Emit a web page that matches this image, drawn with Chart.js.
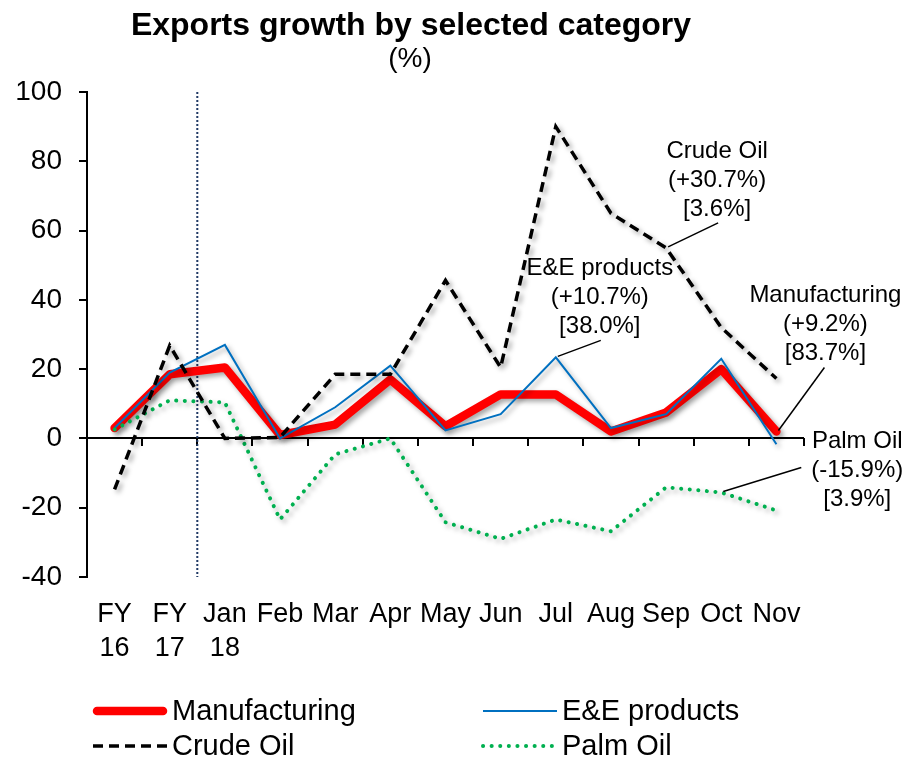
<!DOCTYPE html>
<html>
<head>
<meta charset="utf-8">
<script src="https://cdn.jsdelivr.net/npm/chart.js@4.4.1/dist/chart.umd.min.js"></script>
<style>
  body { margin: 0; background: #fff; }
  #wrap { width: 904px; height: 761px; }
</style>
</head>
<body>
<div id="wrap"><canvas id="exportsChart" width="904" height="761"></canvas></div>
<script>
const FONT = '"Liberation Sans", Arial, sans-serif';

const categories = [['FY', '16'], ['FY', '17'], ['Jan', '18'], 'Feb', 'Mar', 'Apr', 'May', 'Jun', 'Jul', 'Aug', 'Sep', 'Oct', 'Nov'];

const manufacturing = [3, 18.5, 20.5, 1, 4, 17, 3.5, 12.7, 12.7, 2, 7.5, 20, 2];
const eeProducts    = [3, 19, 27, 0, 9, 21, 2.3, 7, 23.4, 3, 7, 23, -1.7];
const crudeOil      = [-14.7, 26.8, 0, 0.3, 18.5, 18.5, 45.6, 20.5, 90, 65, 55, 32, 17.3];
const palmOil       = [2.6, 11, 10.4, -23.4, -4.6, 0, -24.2, -29, -23.4, -26.8, -14.1, -15.6, -20.8];

const yTicks = [-40, -20, 0, 20, 40, 60, 80, 100];

// callout labels: which series / point they point at
const callouts = [
  { ds: 2, idx: 10, lines: ['Crude Oil', '(+30.7%)', '[3.6%]'], tx: 51, ty: -97, lx: 52, ly: -25 },
  { ds: 1, idx: 8, lines: ['E&E products', '(+10.7%)', '[38.0%]'], tx: 44, ty: -89, lx: 45, ly: -17 },
  { ds: 0, idx: 12, lines: ['Manufacturing', '(+9.2%)', '[83.7%]'], tx: 49, ty: -136, lx: 48, ly: -64 },
  { ds: 3, idx: 11, lines: ['Palm Oil', '(-15.9%)', '[3.9%]'], tx: 136, ty: -51, lx: 80, ly: -25 }
];

const shadowPlugin = {
  id: 'shadow',
  beforeDatasetDraw(chart) {
    const ctx = chart.ctx;
    ctx.save();
    ctx.shadowColor = 'rgba(0,0,0,0.35)';
    ctx.shadowBlur = 5;
    ctx.shadowOffsetX = 3;
    ctx.shadowOffsetY = 3;
  },
  afterDatasetDraw(chart) {
    chart.ctx.restore();
  }
};

const extrasPlugin = {
  id: 'extras',
  beforeDatasetsDraw(chart) {
    const ctx = chart.ctx, x = chart.scales.x, y = chart.scales.y, area = chart.chartArea;
    ctx.save();
    // zero axis with tick marks between categories
    const y0 = Math.round(y.getPixelForValue(0));
    const step = x.getPixelForValue(1) - x.getPixelForValue(0);
    ctx.fillStyle = '#000';
    ctx.fillRect(area.left, y0 - 1, area.right - area.left, 2);
    for (let i = 0; i <= categories.length; i++) {
      const px = Math.round(x.getPixelForValue(i) - step / 2);
      ctx.fillRect(px - 1, y0, 2, 8);
    }
    // dotted divider between FY and monthly data
    const px = (x.getPixelForValue(1) + x.getPixelForValue(2)) / 2;
    ctx.strokeStyle = '#1F3864';
    ctx.lineWidth = 2;
    ctx.setLineDash([2, 2]);
    ctx.beginPath();
    ctx.moveTo(px, area.top);
    ctx.lineTo(px, area.bottom);
    ctx.stroke();
    ctx.restore();
  },
  afterDraw(chart) {
    const ctx = chart.ctx;
    ctx.save();
    // title
    ctx.fillStyle = '#000';
    ctx.textAlign = 'center';
    ctx.textBaseline = 'middle';
    ctx.font = 'bold 32px ' + FONT;
    ctx.fillText('Exports growth by selected category', 411, 26);
    ctx.font = '28px ' + FONT;
    ctx.fillText('(%)', 410, 59);

    // callouts
    ctx.font = '24px ' + FONT;
    callouts.forEach(c => {
      const pt = chart.getDatasetMeta(c.ds).data[c.idx];
      ctx.strokeStyle = '#000';
      ctx.lineWidth = 1.5;
      ctx.beginPath();
      ctx.moveTo(pt.x + 2, pt.y - 1);
      ctx.lineTo(pt.x + c.lx, pt.y + c.ly);
      ctx.stroke();
      c.lines.forEach((t, i) => ctx.fillText(t, pt.x + c.tx, pt.y + c.ty + i * 29));
    });

    // legend
    ctx.font = '29px ' + FONT;
    ctx.textAlign = 'left';
    const cols = [93, 483], rows = [711, 746];
    chart.data.datasets.forEach((ds, i) => {
      const lx = cols[i % 2], ly = rows[Math.floor(i / 2)];
      ctx.strokeStyle = ds.borderColor;
      ctx.lineWidth = ds.borderWidth;
      ctx.lineCap = ds.borderCapStyle || 'butt';
      ctx.setLineDash(ds.borderDash || []);
      ctx.beginPath();
      ctx.moveTo(lx + (ds.borderWidth > 5 ? 4 : 0), ly);
      ctx.lineTo(lx + 74 - (ds.borderWidth > 5 ? 4 : 0), ly);
      ctx.stroke();
      ctx.setLineDash([]);
      ctx.fillStyle = '#000';
      ctx.fillText(ds.label, lx + 79, ly + 1);
    });
    ctx.restore();
  }
};

new Chart(document.getElementById('exportsChart'), {
  type: 'line',
  data: {
    labels: categories,
    datasets: [
      {
        label: 'Manufacturing',
        data: manufacturing,
        borderColor: '#FF0000',
        borderWidth: 8.5,
        borderCapStyle: 'round',
        borderJoinStyle: 'round',
        pointRadius: 0,
        order: 4
      },
      {
        label: 'E&E products',
        data: eeProducts,
        borderColor: '#0070C0',
        borderWidth: 2,
        pointRadius: 0,
        order: 3
      },
      {
        label: 'Crude Oil',
        data: crudeOil,
        borderColor: '#000000',
        borderWidth: 3.5,
        borderDash: [10, 6],
        pointRadius: 0,
        order: 1
      },
      {
        label: 'Palm Oil',
        data: palmOil,
        borderColor: '#00B050',
        borderWidth: 4,
        borderDash: [0.1, 8.5],
        borderCapStyle: 'round',
        pointRadius: 0,
        order: 2
      }
    ]
  },
  options: {
    responsive: false,
    animation: false,
    layout: { padding: { left: 0, top: 92, right: 100, bottom: 0 } },
    plugins: {
      legend: { display: false },
      title: { display: false },
      tooltip: { enabled: false }
    },
    scales: {
      x: {
        type: 'category',
        position: 'bottom',
        offset: true,
        grid: { display: false, offset: true },
        border: { display: false },
        ticks: {
          color: '#000',
          padding: 12,
          maxRotation: 0,
          autoSkip: false,
          font: { family: FONT, size: 27, lineHeight: 1.28 }
        },
        afterFit(scale) { scale.height = 184; }
      },
      y: {
        min: -40,
        max: 100,
        afterBuildTicks(scale) { scale.ticks = yTicks.map(v => ({ value: v })); },
        grid: { drawOnChartArea: false, drawTicks: true, tickLength: 8, color: '#000', lineWidth: 2 },
        border: { display: true, color: '#000', width: 2 },
        ticks: {
          color: '#000',
          padding: 17,
          font: { family: FONT, size: 28 }
        },
        afterFit(scale) { scale.width = 87; }
      }
    }
  },
  plugins: [shadowPlugin, extrasPlugin]
});
</script>
</body>
</html>
